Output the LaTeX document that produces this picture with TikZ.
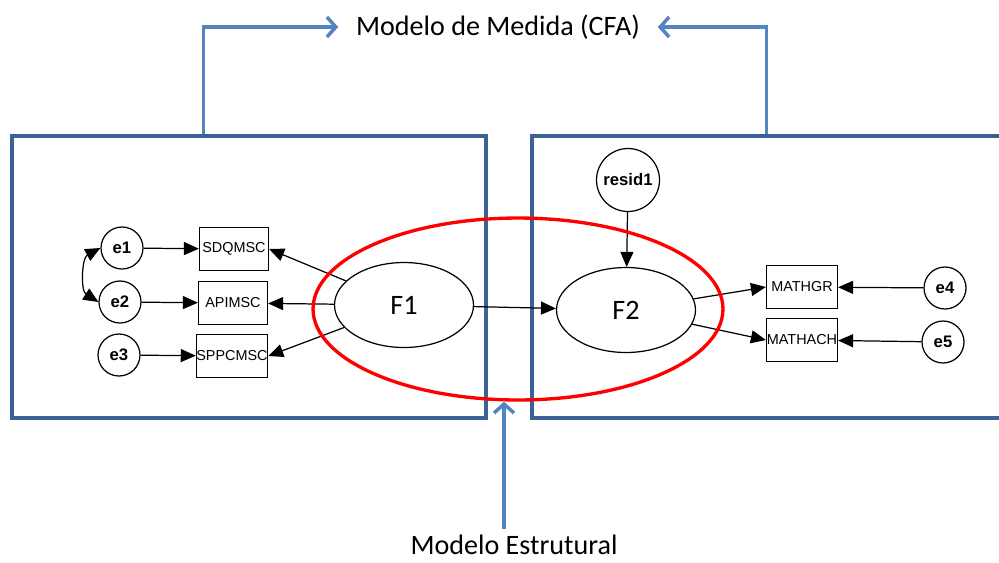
\documentclass[tikz,border=0pt]{standalone}
\usepackage{fontspec}
\setmainfont{Carlito}
\newfontfamily\arialfont{Liberation Sans}
\usetikzlibrary{positioning,arrows.meta,shapes.geometric}
\definecolor{frameblue}{HTML}{3B6296}
\definecolor{callblue}{HTML}{5585C0}

\begin{document}
\begin{tikzpicture}[
  x=0.02cm, y=-0.02cm,
  panel/.style={rectangle, draw=frameblue, line width=1.8pt, minimum height=5.64cm, inner sep=0pt},
  obs/.style={rectangle, draw, line width=0.7pt, minimum width=1.38cm, minimum height=0.86cm,
              inner sep=0pt, font=\arialfont\fontsize{8.2}{9}\selectfont},
  lat/.style={ellipse, draw, line width=0.7pt, minimum width=2.78cm, minimum height=1.70cm,
              inner sep=0pt, font=\fontsize{16}{18}\selectfont},
  err/.style={circle, draw, line width=0.7pt, minimum size=0.84cm, inner sep=0pt,
              font=\arialfont\bfseries\fontsize{9.5}{11}\selectfont},
  reg/.style={-{Triangle[length=3mm,width=2.6mm]}, line width=0.7pt},
  dreg/.style={{Triangle[length=3mm,width=2.6mm]}-{Triangle[length=3mm,width=2.6mm]}, line width=0.7pt},
  pointer/.style={-{Straight Barb[length=1.8mm,width=4mm]}, draw=callblue, line width=2pt},
  title/.style={font=\fontsize{16}{19}\selectfont}
]
\useasboundingbox (0,0) rectangle (999,562);
\clip (0,0) rectangle (999,562);

% measurement panels
\node[panel, minimum width=9.48cm] (mleft)  at (249,277) {};
\node[panel, minimum width=9.8cm]  (mright) at (777,277) {};

% left part
\node[err] (e1) at (122,248) {e1};
\node[err] (e2) at (120,302) {e2};
\node[err] (e3) at (119,355) {e3};
\node[obs] (sdq) at (234,249) {SDQMSC};
\node[obs] (api) at (233,303) {APIMSC};
\node[obs] (spp) at (232,356) {SPPCMSC};
\node[lat] (f1) at (404,305) {F1};

% right part
\node[lat] (f2) at (626,310) {F2};
\node[err, minimum size=1.26cm] (resid) at (628,180) {resid1};
\node[obs, minimum width=1.42cm] (mgr)  at (802,287) {MATHGR};
\node[obs, minimum width=1.42cm] (mach) at (802,340) {MATHACH};
\node[err] (e4) at (945,288) {e4};
\node[err] (e5) at (943,342) {e5};

\draw[reg] (e1) -- (sdq);
\draw[reg] (e2) -- (api);
\draw[reg] (e3) -- (spp);
\draw[dreg] (e1.west) to[bend right=60] (e2.west);
\draw[reg] (f1) -- (sdq.east);
\draw[reg] (f1) -- (api);
\draw[reg] (f1) -- (spp.east);
\draw[reg] (f1) -- (f2);
\draw[reg] (resid) -- (f2);
\draw[reg] (f2) -- (mgr.west);
\draw[reg] (f2) -- (mach.west);
\draw[reg] (e4) -- (mgr);
\draw[reg] (e5) -- (mach);

% structural part
\node[ellipse, draw=red, line width=1.9pt, minimum width=8.2cm, minimum height=3.64cm,
      inner sep=0pt] (struct) at (518,309) {};

% captions
\node[title, inner xsep=0.35cm] (cfa) at (498,27) {Modelo de Medida (CFA)};
\node[title] (estr) at (514,545) {Modelo Estrutural};

\draw[pointer] ([xshift=3.86cm]mleft.north west) |- (cfa.west);
\draw[pointer] ([xshift=4.72cm]mright.north west) |- (cfa.east);
\draw[pointer] ([xshift=-0.2cm]estr.north) -- ([xshift=-0.2cm]estr.north |- struct.south);
\end{tikzpicture}
\end{document}
